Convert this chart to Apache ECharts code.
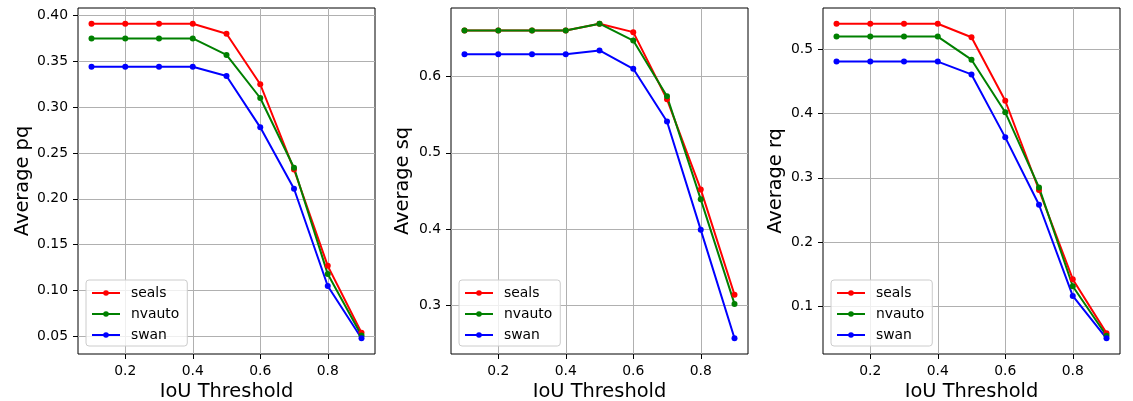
<!DOCTYPE html>
<html>
<head>
<meta charset="utf-8">
<script src="https://cdn.jsdelivr.net/npm/echarts@6/dist/echarts.min.js"></script>
<style>
  html, body { margin: 0; padding: 0; background: #fff; }
  #chart { width: 1133px; height: 401px; }
</style>
</head>
<body>
<div id="chart"></div>
<script>
// IoU thresholds shared by all three panels
const thresholds = [0.1, 0.2, 0.3, 0.4, 0.5, 0.6, 0.7, 0.8, 0.9];
const methods = ['seals', 'nvauto', 'swan'];
const methodColors = ['#ff0000', '#008000', '#0000ff'];

// panel 1: pq
const pqSeals  = [0.391, 0.391, 0.391, 0.391, 0.380, 0.325, 0.232, 0.127, 0.054];
const pqNvauto = [0.375, 0.375, 0.375, 0.375, 0.357, 0.310, 0.234, 0.118, 0.051];
const pqSwan   = [0.344, 0.344, 0.344, 0.344, 0.334, 0.278, 0.211, 0.105, 0.048];

// panel 2: sq
const sqSeals  = [0.660, 0.660, 0.660, 0.660, 0.669, 0.658, 0.570, 0.452, 0.314];
const sqNvauto = [0.660, 0.660, 0.660, 0.660, 0.669, 0.647, 0.574, 0.439, 0.302];
const sqSwan   = [0.629, 0.629, 0.629, 0.629, 0.634, 0.610, 0.541, 0.399, 0.257];

// panel 3: rq
const rqSeals  = [0.540, 0.540, 0.540, 0.540, 0.519, 0.420, 0.281, 0.142, 0.058];
const rqNvauto = [0.520, 0.520, 0.520, 0.520, 0.484, 0.402, 0.285, 0.131, 0.054];
const rqSwan   = [0.481, 0.481, 0.481, 0.481, 0.461, 0.363, 0.258, 0.116, 0.050];

// tick labels
const xTicks = [0.2, 0.4, 0.6, 0.8];
const pqTicks = [0.05, 0.10, 0.15, 0.20, 0.25, 0.30, 0.35, 0.40];
const sqTicks = [0.3, 0.4, 0.5, 0.6];
const rqTicks = [0.1, 0.2, 0.3, 0.4, 0.5];

const panels = [
  { title: 'Average pq', values: [pqSeals, pqNvauto, pqSwan], ticks: pqTicks, digits: 2, left: 78,  nameGap: 46 },
  { title: 'Average sq', values: [sqSeals, sqNvauto, sqSwan], ticks: sqTicks, digits: 1, left: 451, nameGap: 39 },
  { title: 'Average rq', values: [rqSeals, rqNvauto, rqSwan], ticks: rqTicks, digits: 1, left: 823, nameGap: 38 },
];

const FONT = 'DejaVu Sans';
const plotW = 297, plotTop = 8, plotH = 346;

// matplotlib-style 5% autoscale margin
function padded(arr) {
  const lo = Math.min(...arr), hi = Math.max(...arr);
  const m = (hi - lo) * 0.05;
  return [lo - m, hi + m];
}
const xRange = padded(thresholds);

const grid = [], xAxis = [], yAxis = [], series = [], legend = [];

panels.forEach((p, i) => {
  const yRange = padded([].concat(...p.values));
  grid.push({
    left: p.left, top: plotTop, width: plotW, height: plotH,
    outerBoundsMode: 'none', containLabel: false,
    show: true, borderColor: '#000', borderWidth: 1, backgroundColor: 'transparent'
  });
  xAxis.push({
    gridIndex: i, type: 'value', min: xRange[0], max: xRange[1],
    name: 'IoU Threshold', nameLocation: 'middle', nameGap: 28,
    nameTextStyle: { fontFamily: FONT, fontSize: 19.4, color: '#000' },
    axisLine: { show: false },
    axisTick: { show: true, length: 5, customValues: xTicks, lineStyle: { color: '#000', width: 1 } },
    axisLabel: { customValues: xTicks, formatter: v => v.toFixed(1), fontFamily: FONT, fontSize: 13.9, color: '#000', margin: 10 },
    splitLine: { show: true, lineStyle: { color: '#b0b0b0', width: 1 } }
  });
  yAxis.push({
    gridIndex: i, type: 'value', min: yRange[0], max: yRange[1],
    name: p.title, nameLocation: 'middle', nameGap: p.nameGap,
    nameTextStyle: { fontFamily: FONT, fontSize: 19.4, color: '#000' },
    axisLine: { show: false },
    axisTick: { show: true, length: 5, customValues: p.ticks, lineStyle: { color: '#000', width: 1 } },
    axisLabel: { customValues: p.ticks, formatter: v => v.toFixed(p.digits), fontFamily: FONT, fontSize: 13.9, color: '#000', margin: 10 },
    splitLine: { show: true, lineStyle: { color: '#b0b0b0', width: 1 } }
  });
  methods.forEach((name, k) => {
    series.push({
      name, type: 'line', xAxisIndex: i, yAxisIndex: i,
      data: thresholds.map((t, j) => [t, p.values[k][j]]),
      symbol: 'circle', symbolSize: 6, showSymbol: true,
      color: methodColors[k],
      lineStyle: { width: 2, color: methodColors[k] },
      itemStyle: { color: methodColors[k] },
      emphasis: { disabled: true }
    });
  });
  legend.push({
    data: methods, orient: 'vertical',
    left: p.left + 8, top: 280,
    itemWidth: 28, itemHeight: 7, itemGap: 5,
    padding: [5, 8, 3, 5],
    backgroundColor: 'rgba(255,255,255,0.8)',
    borderColor: '#cccccc', borderWidth: 1, borderRadius: 3,
    textStyle: { fontFamily: FONT, fontSize: 13.9, color: '#000', padding: [0, 0, 0, 6], lineHeight: 16 },
    selectedMode: false
  });
});

const chart = echarts.init(document.getElementById('chart'), null, { renderer: 'canvas' });
chart.setOption({
  animation: false,
  backgroundColor: '#fff',
  grid, xAxis, yAxis, series, legend
});
</script>
</body>
</html>
